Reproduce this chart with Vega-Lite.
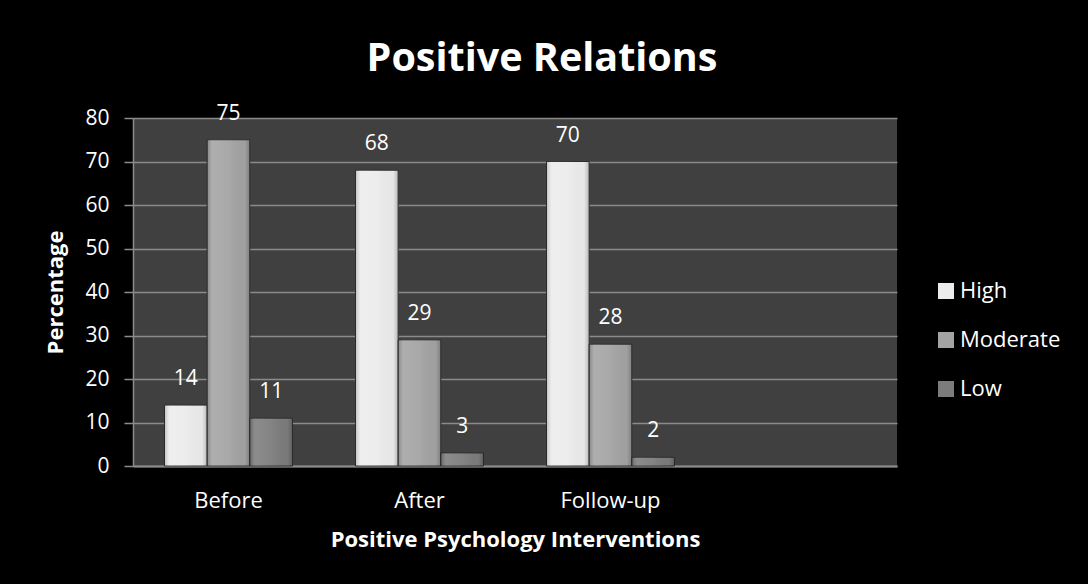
{
  "$schema": "https://vega.github.io/schema/vega-lite/v6.json",
  "width": 764,
  "height": 348,
  "padding": {"left": 133, "top": 118, "right": 191, "bottom": 118},
  "autosize": {"type": "none"},
  "background": "#000000",
  "title": {
    "text": "Positive Relations",
    "font": "Open Sans",
    "fontSize": 39.5,
    "fontWeight": "bold",
    "color": "#ffffff",
    "anchor": "middle",
    "frame": "group",
    "dx": 27,
    "offset": 23
  },
  "data": {
    "values": [
      {"stage": "Before", "level": "High", "pct": 14},
      {"stage": "Before", "level": "Moderate", "pct": 75},
      {"stage": "Before", "level": "Low", "pct": 11},
      {"stage": "After", "level": "High", "pct": 68},
      {"stage": "After", "level": "Moderate", "pct": 29},
      {"stage": "After", "level": "Low", "pct": 3},
      {"stage": "Follow-up", "level": "High", "pct": 70},
      {"stage": "Follow-up", "level": "Moderate", "pct": 28},
      {"stage": "Follow-up", "level": "Low", "pct": 2}
    ]
  },
  "encoding": {
    "x": {
      "field": "stage",
      "type": "nominal",
      "scale": {"domain": ["Before", "After", "Follow-up", " "], "paddingInner": 0.33, "paddingOuter": 0.165},
      "axis": {
        "title": "Positive Psychology Interventions",
        "labelAngle": 0,
        "ticks": false,
        "labelPadding": 24,
        "titlePadding": 18,
        "domainColor": "#8c8c8c",
        "domainWidth": 2
      }
    },
    "xOffset": {
      "field": "level",
      "type": "nominal",
      "scale": {"domain": ["High", "Moderate", "Low"], "paddingInner": 0, "paddingOuter": 0}
    },
    "y": {
      "field": "pct",
      "type": "quantitative",
      "scale": {"domain": [0, 80]},
      "axis": {
        "title": "Percentage",
        "values": [0, 10, 20, 30, 40, 50, 60, 70, 80],
        "tickSize": 9,
        "tickColor": "#8c8c8c",
        "tickWidth": 1.5,
        "labelPadding": 15,
        "labelOverlap": false,
        "titlePadding": 17,
        "domainColor": "#8c8c8c",
        "domainWidth": 1.5,
        "grid": true,
        "gridColor": "#8a8a8a",
        "gridWidth": 1.5
      }
    }
  },
  "layer": [
    {
      "mark": {"type": "bar", "stroke": "#2e2e2e", "strokeWidth": 1},
      "encoding": {
        "color": {
          "field": "level",
          "type": "nominal",
          "scale": {"domain": ["High", "Moderate", "Low"], "range": ["#ececec", "#a3a3a3", "#7c7c7c"]},
          "legend": {
            "title": null,
            "orient": "none",
            "legendX": 802,
            "legendY": 162,
            "symbolType": "square",
            "symbolSize": 256,
            "symbolStrokeWidth": 0,
            "labelFont": "Open Sans",
            "labelFontSize": 22,
            "labelColor": "#ffffff",
            "labelOffset": 3,
            "rowPadding": 27
          }
        }
      }
    },
    {
      "mark": {
        "type": "bar",
        "color": {
          "gradient": "linear",
          "x1": 0, "x2": 1, "y1": 0, "y2": 0,
          "stops": [
            {"offset": 0, "color": "rgba(0,0,0,0.18)"},
            {"offset": 0.12, "color": "rgba(255,255,255,0.12)"},
            {"offset": 0.5, "color": "rgba(255,255,255,0.06)"},
            {"offset": 0.88, "color": "rgba(0,0,0,0.02)"},
            {"offset": 1, "color": "rgba(0,0,0,0.22)"}
          ]
        }
      }
    },
    {
      "mark": {"type": "text", "dy": -26, "baseline": "middle", "font": "Open Sans", "fontSize": 21, "color": "#ffffff"},
      "encoding": {"text": {"field": "pct", "type": "quantitative"}}
    }
  ],
  "config": {
    "view": {"fill": "#404040", "stroke": null},
    "axis": {
      "labelFont": "Open Sans",
      "labelFontSize": 21,
      "labelColor": "#ffffff",
      "titleFont": "Open Sans",
      "titleFontSize": 22,
      "titleFontWeight": "bold",
      "titleColor": "#ffffff"
    },
    "axisX": {"labelFontSize": 22}
  }
}
